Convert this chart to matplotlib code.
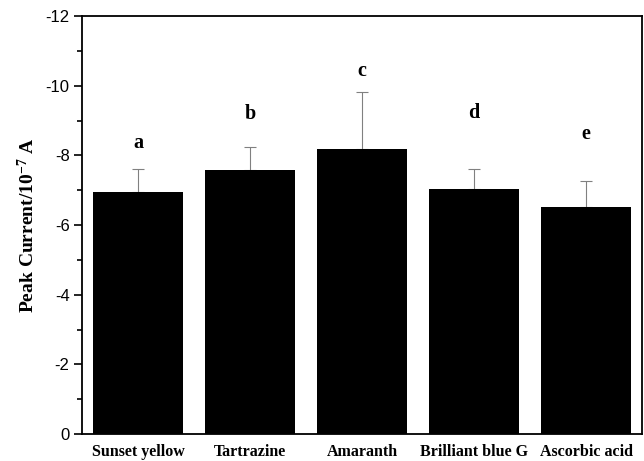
import matplotlib
matplotlib.use("Agg")
import matplotlib.pyplot as plt
from matplotlib.ticker import MultipleLocator
import numpy as np

plt.rcParams["axes.unicode_minus"] = False
plt.rcParams["mathtext.fontset"] = "custom"
plt.rcParams["mathtext.rm"] = "Liberation Serif:bold"
plt.rcParams["mathtext.bf"] = "Liberation Serif:bold"
plt.rcParams["mathtext.default"] = "rm"

categories = ["Sunset yellow", "Tartrazine", "Amaranth", "Brilliant blue G", "Ascorbic acid"]
values = [-6.96, -7.59, -8.18, -7.04, -6.51]
errors = [0.66, 0.65, 1.63, 0.56, 0.75]
letters = ["a", "b", "c", "d", "e"]
letter_pos = [-8.35, -9.19, -10.42, -9.21, -8.61]

fig = plt.figure(figsize=(6.44, 4.61), dpi=100)
ax = fig.add_axes([82/644, 27/461, 560/644, 418/461])

x = np.arange(len(categories))
ax.bar(x, values, width=0.8, color="black", zorder=2)
ax.errorbar(x, values, yerr=[errors, np.zeros(len(errors))], fmt="none",
            ecolor="#808080", elinewidth=0.8, capsize=4, capthick=0.8, zorder=1)

for xi, lt, lp in zip(x, letters, letter_pos):
    ax.text(xi, lp, lt, ha="center", va="center", fontsize=14.5,
            fontweight="bold", family="Liberation Serif")

ax.set_xlim(-0.5, 4.5)
ax.set_ylim(0, -12)
ax.yaxis.set_major_locator(MultipleLocator(2))
ax.yaxis.set_minor_locator(MultipleLocator(1))
ax.set_xticks(x)
ax.set_xticklabels(categories, fontsize=11.5, fontweight="bold", family="Liberation Serif")
ax.tick_params(axis="x", length=0, pad=7)
ax.tick_params(axis="y", which="major", length=6, width=1.2, direction="out", labelsize=12, pad=3)
ax.tick_params(axis="y", which="minor", length=3.5, width=1.2, direction="out")
for lbl in ax.get_yticklabels():
    lbl.set_family("Liberation Sans")
for s in ax.spines.values():
    s.set_linewidth(1.3)

ax.set_ylabel("Peak Current/10$^{-7}$ A", fontsize=14, fontweight="bold",
              family="Liberation Serif", labelpad=5)

fig.savefig("out.png", dpi=100)
